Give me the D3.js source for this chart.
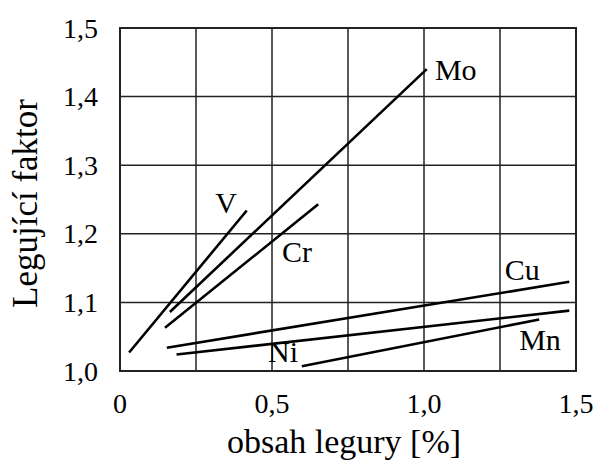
<!DOCTYPE html>
<html>
<head>
<meta charset="utf-8">
<script src="https://cdn.jsdelivr.net/npm/d3@7"></script>
<style>
  body { margin: 0; background: #fff; }
</style>
</head>
<body>
<script>
// alloying element lines: start / end points in (% , factor)
const elements = ["V", "Mo", "Cr", "Cu", "Mn", "Ni"];
const startX = [0.03, 0.164, 0.148, 0.154, 0.186, 0.598];
const startY = [1.027, 1.086, 1.063, 1.034, 1.024, 1.007];
const endX = [0.417, 1.009, 0.652, 1.478, 1.478, 1.379];
const endY = [1.234, 1.44, 1.243, 1.130, 1.088, 1.075];
// where each name is written (data coords)
const labelX = [0.349, 1.036, 0.533, 1.266, 1.313, 0.487];
const labelY = [1.230, 1.424, 1.159, 1.132, 1.030, 1.013];
const labelAnchor = ["middle", "start", "start", "start", "start", "start"];

const xTicks = [0, 0.5, 1.0, 1.5];
const xGrid = [0, 0.25, 0.5, 0.75, 1.0, 1.25, 1.5];
const yTicks = [1.0, 1.1, 1.2, 1.3, 1.4, 1.5];

const width = 594, height = 463;
const margin = {top: 28, right: 18, bottom: 92, left: 120};
const serif = "'Liberation Serif', 'Times New Roman', Times, 'DejaVu Serif', serif";

const svg = d3.select("body").append("svg")
    .attr("width", width)
    .attr("height", height)
    .attr("font-family", serif);

const x = d3.scaleLinear().domain([0, 1.5]).range([margin.left, width - margin.right]);
const y = d3.scaleLinear().domain([1.0, 1.5]).range([height - margin.bottom, margin.top]);

const fmt = d => d3.format(".1f")(d).replace(".", ",");

// grid
svg.append("g").selectAll("line")
    .data(xGrid)
    .enter().append("line")
    .attr("x1", d => x(d)).attr("x2", d => x(d))
    .attr("y1", y(1.0)).attr("y2", y(1.5))
    .style("stroke", "#222").style("stroke-width", 1.5);
svg.append("g").selectAll("line")
    .data(yTicks)
    .enter().append("line")
    .attr("x1", x(0)).attr("x2", x(1.5))
    .attr("y1", d => y(d)).attr("y2", d => y(d))
    .style("stroke", "#222").style("stroke-width", 1.5);

svg.append("rect")
    .attr("x", x(0)).attr("y", y(1.5))
    .attr("width", x(1.5) - x(0)).attr("height", y(1.0) - y(1.5))
    .style("fill", "none").style("stroke", "#222").style("stroke-width", 2);

// tick labels
svg.append("g").selectAll("text")
    .data(yTicks)
    .enter().append("text")
    .attr("x", margin.left - 22)
    .attr("y", d => y(d))
    .attr("text-anchor", "end")
    .attr("dominant-baseline", "central")
    .style("font-family", serif)
    .style("font-size", "28px")
    .text(fmt);

svg.append("g").selectAll("text")
    .data(xTicks)
    .enter().append("text")
    .attr("x", d => x(d))
    .attr("y", y(1.0) + 42)
    .attr("text-anchor", "middle")
    .style("font-family", serif)
    .style("font-size", "28px")
    .text(d => d === 0 ? "0" : fmt(d));

// axis titles
svg.append("text")
    .attr("x", (x(0) + x(1.5)) / 2 - 4)
    .attr("y", 453)
    .attr("text-anchor", "middle")
    .style("font-family", serif)
    .style("font-size", "34px")
    .text("obsah legury [%]");

svg.append("text")
    .attr("transform", "translate(37," + ((y(1.0) + y(1.5)) / 2 + 4) + ") rotate(-90)")
    .attr("text-anchor", "middle")
    .style("font-family", serif)
    .style("font-size", "35px")
    .text("Legující faktor");

// element lines
svg.append("g").selectAll("line")
    .data(elements)
    .enter().append("line")
    .attr("x1", (d, i) => x(startX[i]))
    .attr("y1", (d, i) => y(startY[i]))
    .attr("x2", (d, i) => x(endX[i]))
    .attr("y2", (d, i) => y(endY[i]))
    .style("stroke", "#000")
    .style("stroke-width", 2.6);

svg.append("g").selectAll("text")
    .data(elements)
    .enter().append("text")
    .attr("x", (d, i) => x(labelX[i]))
    .attr("y", (d, i) => y(labelY[i]))
    .attr("text-anchor", (d, i) => labelAnchor[i])
    .style("font-family", serif)
    .style("font-size", "30px")
    .text(d => d);
</script>
</body>
</html>
